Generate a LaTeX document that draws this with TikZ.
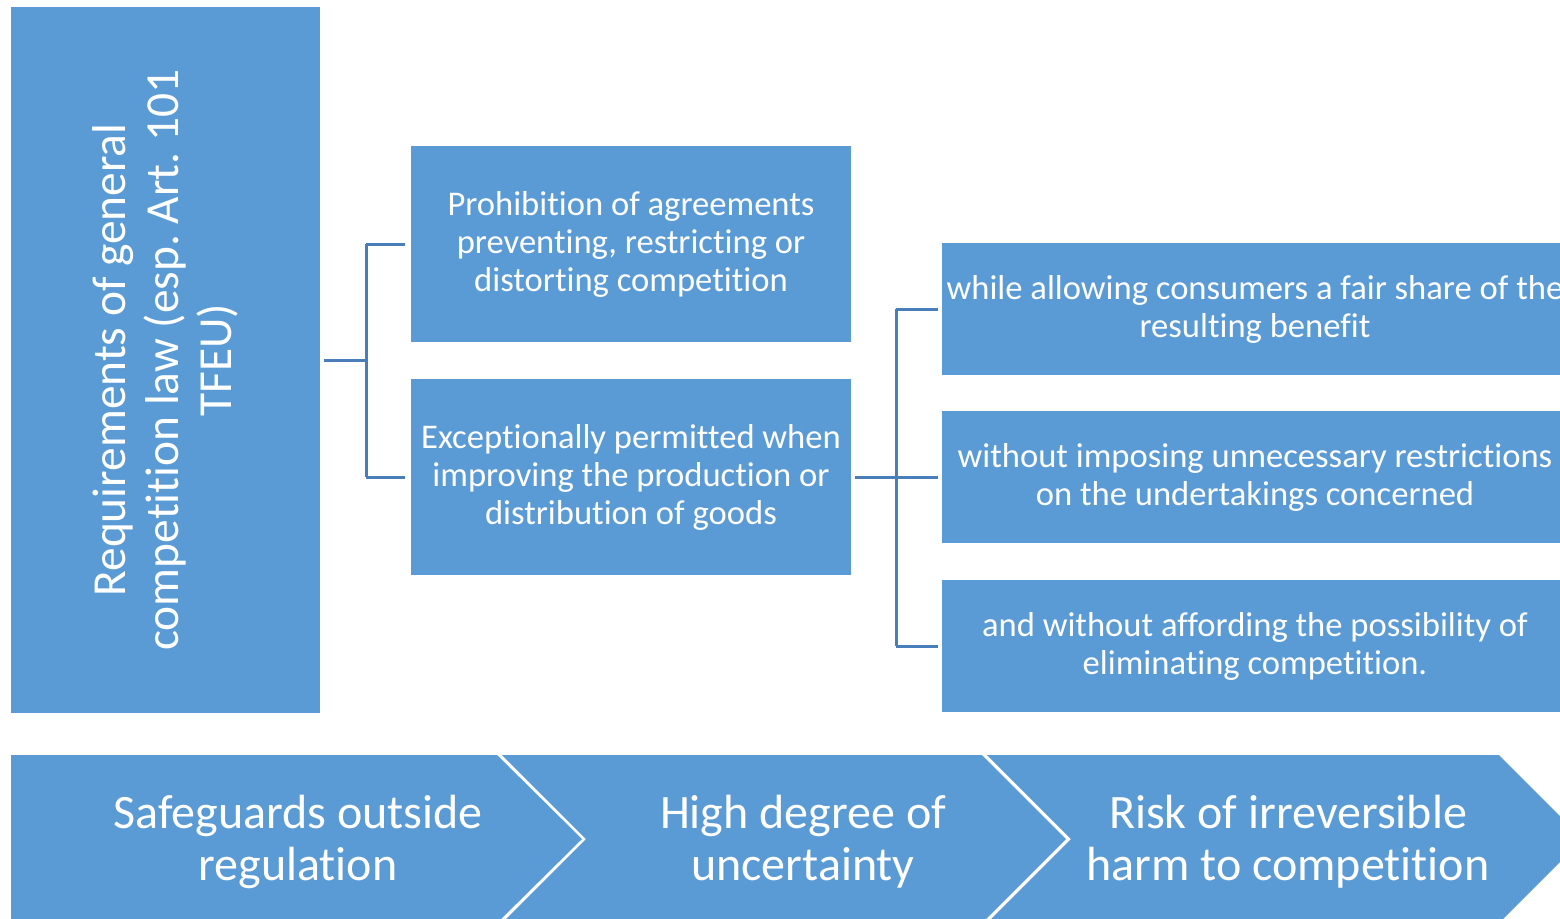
\documentclass[tikz,border=0pt]{standalone}
\usepackage{fontspec}
\setmainfont[Ligatures=NoCommon]{Carlito}
\definecolor{boxblue}{HTML}{5B9BD5}
\definecolor{linkblue}{HTML}{4A7EBB}
\frenchspacing
\begin{document}
\begin{tikzpicture}[x=0.5pt,y=-0.5pt,
  box/.style={fill=boxblue,draw=none,text=white,align=center,inner sep=0pt,
    font=\fontsize{17.3}{19}\selectfont},
  link/.style={draw=linkblue,line width=1.5pt},
  chev/.style={fill=boxblue,draw=none},
  chevtext/.style={text=white,align=center,font=\fontsize{24}{26}\selectfont}]
\clip (0,0) rectangle (1560,918);
\fill[white] (0,0) rectangle (1560,918);
% left tall box
\node[box,anchor=north west,minimum width=154.5pt,minimum height=353pt] (req) at (11,7) {};
\node[text=white,align=center,rotate=90,font=\fontsize{23.7}{26.5}\selectfont] (reqt) at (165,360)
  {Requirements of general\\competition law (esp. Art. 101\\TFEU)};
% middle boxes
\node[box,minimum width=220pt,minimum height=98pt] (proh) at (631,244)
  {Prohibition of agreements\\preventing, restricting or\\distorting competition};
\node[box,minimum width=220pt,minimum height=98pt] (exc) at (631,477)
  {Exceptionally permitted when\\improving the production or\\distribution of goods};
% right boxes
\node[box,minimum width=313pt,minimum height=66pt] (r1) at (1255,309)
  {while allowing consumers a fair share of the\\resulting benefit};
\node[box,minimum width=313pt,minimum height=66pt] (r2) at (1255,477)
  {without imposing unnecessary restrictions\\on the undertakings concerned};
\node[box,minimum width=313pt,minimum height=66pt] (r3) at (1255,646)
  {and without affording the possibility of\\eliminating competition.};
% connectors
\coordinate (j1) at (366,360);
\coordinate (j2) at (896,477);
\draw[link] (req.east |- j1) ++(3,0) -- (j1);
\draw[link] (j1 |- proh.west) -- (j1 |- exc.west);
\draw[link] (j1 |- proh.west) -- ([xshift=-3]proh.west);
\draw[link] (j1 |- exc.west) -- ([xshift=-3]exc.west);
\draw[link] ([xshift=2]exc.east) -- (j2);
\draw[link] (j2 |- r1.west) -- (j2 |- r3.west);
\draw[link] (j2 |- r1.west) -- ([xshift=-2]r1.west);
\draw[link] (j2) -- ([xshift=-2]r2.west);
\draw[link] (j2 |- r3.west) -- ([xshift=-2]r3.west);
% chevrons
\fill[chev] (11,755) -- (497,755) -- (582,839) -- (497,923) -- (11,923) -- cycle;
\fill[chev] (502,755) -- (982,755) -- (1066,839) -- (982,923) -- (502,923) -- (586,839) -- cycle;
\fill[chev] (987,755) -- (1499,755) -- (1583,839) -- (1499,923) -- (987,923) -- (1071,839) -- cycle;
\node[chevtext] (c1) at (298,842) {Safeguards outside\\regulation};
\node[chevtext] (c2) at (803,842) {High degree of\\uncertainty};
\node[chevtext] (c3) at (1288,842) {Risk of irreversible\\harm to competition};
\end{tikzpicture}
\end{document}
